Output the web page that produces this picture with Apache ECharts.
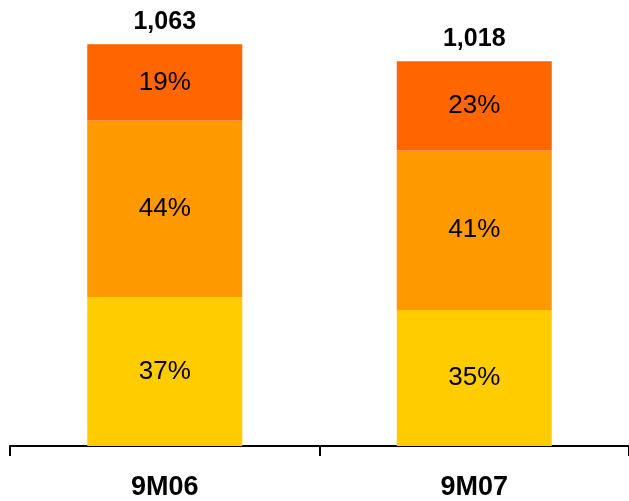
<!DOCTYPE html>
<html>
<head>
<meta charset="utf-8">
<script src="https://cdn.jsdelivr.net/npm/echarts@6/dist/echarts.min.js"></script>
<style>
  html, body { margin: 0; padding: 0; background: #fff; }
  #chart { width: 629px; height: 501px; }
</style>
</head>
<body>
<div id="chart"></div>
<script>
// Periods shown on the category axis
const periods = ['9M06', '9M07'];
// Totals printed above each column
const totals = [1063, 1018];
// Share of each component per period (bottom to top), in percent
const shareBottom = [37, 35];
const shareMiddle = [44, 41];
const shareTop = [19, 23];

const colors = { bottom: '#FFCC00', middle: '#FF9900', top: '#FF6600' };
const FONT = '"Liberation Sans", Arial, sans-serif';

// Split each total into its stacked pieces according to the printed shares
function piece(shares, i) {
  const sum = shareBottom[i] + shareMiddle[i] + shareTop[i];
  return { value: totals[i] * shares[i] / sum, pct: shares[i] };
}
function seriesData(shares) {
  return periods.map((_, i) => piece(shares, i));
}

function stackSeries(name, shares, color) {
  return {
    name: name,
    type: 'bar',
    stack: 'total',
    barWidth: 155,
    data: seriesData(shares),
    itemStyle: { color: color },
    label: {
      show: true,
      position: 'inside',
      fontFamily: FONT,
      fontSize: 26,
      color: '#000',
      formatter: p => p.data.pct + '%'
    },
    emphasis: { disabled: true },
    silent: true
  };
}

const chart = echarts.init(document.getElementById('chart'), null, { renderer: 'canvas' });
chart.setOption({
  animation: false,
  grid: { left: 10, width: 624, top: 0, bottom: 52, containLabel: false },
  xAxis: {
    type: 'category',
    data: periods,
    axisLine: { show: true, lineStyle: { color: '#000', width: 2 } },
    axisTick: { show: true, length: 10, lineStyle: { color: '#000', width: 2 } },
    axisLabel: {
      margin: 28,
      fontFamily: FONT,
      fontSize: 27,
      fontWeight: 'bold',
      color: '#000'
    }
  },
  yAxis: { type: 'value', min: 0, max: 1180, show: false, splitLine: { show: false } },
  series: [
    stackSeries('bottom', shareBottom, colors.bottom),
    stackSeries('middle', shareMiddle, colors.middle),
    stackSeries('top', shareTop, colors.top),
    {
      name: 'total',
      type: 'scatter',
      symbolSize: 0,
      data: totals,
      silent: true,
      itemStyle: { opacity: 1 },
      label: {
        show: true,
        position: 'top',
        distance: 10,
        opacity: 1,
        fontFamily: FONT,
        fontSize: 25,
        fontWeight: 'bold',
        color: '#000',
        formatter: p => p.value.toLocaleString('en-US')
      }
    }
  ]
});
</script>
</body>
</html>
